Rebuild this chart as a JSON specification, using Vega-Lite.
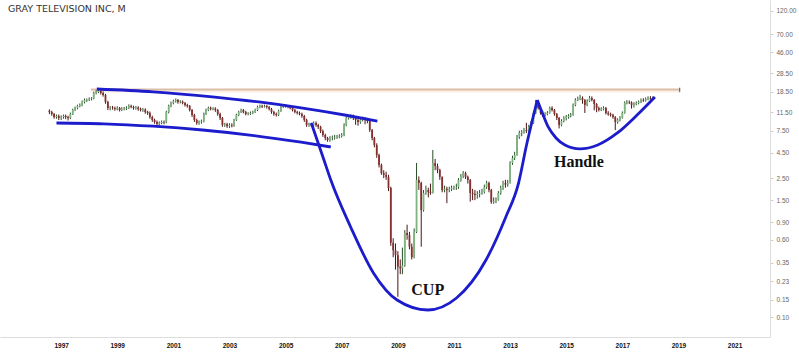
{
"$schema":"https://vega.github.io/schema/vega-lite/v6.json",
"width":770,"height":337,
"autosize":{"type":"none"},
"padding":{"left":0,"top":0,"right":29,"bottom":16},
"background":"#ffffff",
"title":{"text":"GRAY TELEVISION INC, M","anchor":"start","frame":"group","offset":-13,"dx":8,"font":"DejaVu Sans","fontSize":9.5,"fontWeight":"normal","color":"#333333"},
"config":{"view":{"stroke":null}},
"datasets":{
"candles":[
{"d":"1996-08-01","o":11.9,"h":12.3,"l":11.0,"c":11.56},
{"d":"1996-09-01","o":11.56,"h":11.9,"l":10.6,"c":11.04},
{"d":"1996-10-01","o":11.04,"h":11.3,"l":9.9,"c":10.3},
{"d":"1996-11-01","o":10.3,"h":10.9,"l":9.9,"c":10.54},
{"d":"1996-12-01","o":10.54,"h":10.9,"l":9.6,"c":10.06},
{"d":"1997-01-01","o":10.06,"h":10.7,"l":9.6,"c":10.3},
{"d":"1997-02-01","o":10.3,"h":10.9,"l":9.9,"c":10.54},
{"d":"1997-03-01","o":10.54,"h":10.9,"l":9.8,"c":10.3},
{"d":"1997-04-01","o":10.3,"h":10.6,"l":9.5,"c":10.06},
{"d":"1997-05-01","o":10.06,"h":11.4,"l":9.8,"c":11.04},
{"d":"1997-06-01","o":11.04,"h":12.5,"l":10.8,"c":12.11},
{"d":"1997-07-01","o":12.11,"h":13.1,"l":11.8,"c":12.69},
{"d":"1997-08-01","o":12.69,"h":13.7,"l":12.3,"c":13.29},
{"d":"1997-09-01","o":13.29,"h":14.1,"l":12.9,"c":13.6},
{"d":"1997-10-01","o":13.6,"h":15.1,"l":13.2,"c":14.58},
{"d":"1997-11-01","o":14.58,"h":15.8,"l":14.1,"c":15.27},
{"d":"1997-12-01","o":15.27,"h":15.8,"l":14.6,"c":15.4},
{"d":"1998-01-01","o":15.4,"h":16.2,"l":14.9,"c":15.62},
{"d":"1998-02-01","o":15.62,"h":16.3,"l":15.1,"c":15.8},
{"d":"1998-03-01","o":15.8,"h":18.5,"l":15.5,"c":17.95},
{"d":"1998-04-01","o":17.95,"h":19.2,"l":17.4,"c":18.37},
{"d":"1998-05-01","o":18.37,"h":19.7,"l":17.9,"c":18.8},
{"d":"1998-06-01","o":18.8,"h":19.4,"l":17.3,"c":17.95},
{"d":"1998-07-01","o":17.95,"h":18.6,"l":16.5,"c":17.14},
{"d":"1998-08-01","o":17.14,"h":17.6,"l":14.0,"c":14.58},
{"d":"1998-09-01","o":14.58,"h":15.0,"l":12.1,"c":12.69},
{"d":"1998-10-01","o":12.69,"h":13.3,"l":12.0,"c":12.8},
{"d":"1998-11-01","o":12.8,"h":13.3,"l":12.2,"c":12.69},
{"d":"1998-12-01","o":12.69,"h":13.1,"l":11.9,"c":12.39},
{"d":"1999-01-01","o":12.39,"h":13.2,"l":12.0,"c":12.69},
{"d":"1999-02-01","o":12.69,"h":13.0,"l":11.7,"c":12.11},
{"d":"1999-03-01","o":12.11,"h":12.9,"l":11.8,"c":12.39},
{"d":"1999-04-01","o":12.39,"h":13.0,"l":12.0,"c":12.5},
{"d":"1999-05-01","o":12.5,"h":13.2,"l":12.1,"c":12.69},
{"d":"1999-06-01","o":12.69,"h":13.8,"l":12.4,"c":13.29},
{"d":"1999-07-01","o":13.29,"h":13.7,"l":12.6,"c":12.98},
{"d":"1999-08-01","o":12.98,"h":13.4,"l":12.2,"c":12.69},
{"d":"1999-09-01","o":12.69,"h":13.3,"l":12.2,"c":12.8},
{"d":"1999-10-01","o":12.8,"h":13.2,"l":11.9,"c":12.39},
{"d":"1999-11-01","o":12.39,"h":12.8,"l":11.7,"c":12.11},
{"d":"1999-12-01","o":12.11,"h":12.7,"l":11.6,"c":12.2},
{"d":"2000-01-01","o":12.2,"h":12.6,"l":11.1,"c":11.56},
{"d":"2000-02-01","o":11.56,"h":11.9,"l":10.8,"c":11.3},
{"d":"2000-03-01","o":11.3,"h":11.7,"l":9.9,"c":10.3},
{"d":"2000-04-01","o":10.3,"h":10.6,"l":9.2,"c":9.6},
{"d":"2000-05-01","o":9.6,"h":9.9,"l":8.8,"c":9.17},
{"d":"2000-06-01","o":9.17,"h":9.5,"l":8.4,"c":8.75},
{"d":"2000-07-01","o":8.75,"h":9.3,"l":8.4,"c":8.96},
{"d":"2000-08-01","o":8.96,"h":9.5,"l":8.7,"c":9.17},
{"d":"2000-09-01","o":9.17,"h":9.5,"l":8.7,"c":9.1},
{"d":"2000-10-01","o":9.1,"h":11.9,"l":8.9,"c":11.56},
{"d":"2000-11-01","o":11.56,"h":13.7,"l":11.2,"c":13.29},
{"d":"2000-12-01","o":13.29,"h":14.7,"l":12.9,"c":14.24},
{"d":"2001-01-01","o":14.24,"h":15.4,"l":13.8,"c":14.92},
{"d":"2001-02-01","o":14.92,"h":15.8,"l":14.4,"c":15.27},
{"d":"2001-03-01","o":15.27,"h":15.6,"l":14.0,"c":14.58},
{"d":"2001-04-01","o":14.58,"h":15.2,"l":14.1,"c":14.7},
{"d":"2001-05-01","o":14.7,"h":15.1,"l":13.8,"c":14.24},
{"d":"2001-06-01","o":14.24,"h":14.6,"l":13.1,"c":13.6},
{"d":"2001-07-01","o":13.6,"h":14.0,"l":12.8,"c":13.29},
{"d":"2001-08-01","o":13.29,"h":13.6,"l":11.7,"c":12.11},
{"d":"2001-09-01","o":12.11,"h":12.4,"l":10.3,"c":10.78},
{"d":"2001-10-01","o":10.78,"h":11.1,"l":9.2,"c":9.6},
{"d":"2001-11-01","o":9.6,"h":9.9,"l":8.6,"c":8.96},
{"d":"2001-12-01","o":8.96,"h":9.5,"l":8.6,"c":9.17},
{"d":"2002-01-01","o":9.17,"h":9.7,"l":8.8,"c":9.3},
{"d":"2002-02-01","o":9.3,"h":11.4,"l":9.1,"c":11.04},
{"d":"2002-03-01","o":11.04,"h":12.5,"l":10.8,"c":12.11},
{"d":"2002-04-01","o":12.11,"h":13.1,"l":11.8,"c":12.69},
{"d":"2002-05-01","o":12.69,"h":13.1,"l":12.0,"c":12.39},
{"d":"2002-06-01","o":12.39,"h":12.9,"l":12.0,"c":12.5},
{"d":"2002-07-01","o":12.5,"h":12.9,"l":11.6,"c":12.11},
{"d":"2002-08-01","o":12.11,"h":12.4,"l":10.6,"c":11.04},
{"d":"2002-09-01","o":11.04,"h":11.4,"l":9.6,"c":10.06},
{"d":"2002-10-01","o":10.06,"h":10.3,"l":8.2,"c":8.55},
{"d":"2002-11-01","o":8.55,"h":9.0,"l":8.2,"c":8.7},
{"d":"2002-12-01","o":8.7,"h":9.0,"l":8.0,"c":8.36},
{"d":"2003-01-01","o":8.36,"h":8.9,"l":8.0,"c":8.55},
{"d":"2003-02-01","o":8.55,"h":8.9,"l":8.1,"c":8.45},
{"d":"2003-03-01","o":8.45,"h":9.9,"l":8.2,"c":9.6},
{"d":"2003-04-01","o":9.6,"h":11.1,"l":9.4,"c":10.78},
{"d":"2003-05-01","o":10.78,"h":11.9,"l":10.5,"c":11.56},
{"d":"2003-06-01","o":11.56,"h":12.5,"l":11.3,"c":12.11},
{"d":"2003-07-01","o":12.11,"h":12.4,"l":11.2,"c":11.56},
{"d":"2003-08-01","o":11.56,"h":11.9,"l":10.7,"c":11.04},
{"d":"2003-09-01","o":11.04,"h":11.5,"l":10.7,"c":11.1},
{"d":"2003-10-01","o":11.1,"h":11.7,"l":10.8,"c":11.3},
{"d":"2003-11-01","o":11.3,"h":11.9,"l":11.0,"c":11.56},
{"d":"2003-12-01","o":11.56,"h":12.5,"l":11.3,"c":12.11},
{"d":"2004-01-01","o":12.11,"h":13.4,"l":11.8,"c":12.98},
{"d":"2004-02-01","o":12.98,"h":13.7,"l":12.6,"c":13.29},
{"d":"2004-03-01","o":13.29,"h":13.7,"l":12.7,"c":13.1},
{"d":"2004-04-01","o":13.1,"h":13.7,"l":12.8,"c":13.29},
{"d":"2004-05-01","o":13.29,"h":13.6,"l":12.5,"c":12.98},
{"d":"2004-06-01","o":12.98,"h":13.3,"l":12.0,"c":12.39},
{"d":"2004-07-01","o":12.39,"h":12.7,"l":11.1,"c":11.56},
{"d":"2004-08-01","o":11.56,"h":11.9,"l":10.6,"c":11.04},
{"d":"2004-09-01","o":11.04,"h":11.4,"l":10.4,"c":10.78},
{"d":"2004-10-01","o":10.78,"h":12.2,"l":10.5,"c":11.83},
{"d":"2004-11-01","o":11.83,"h":13.4,"l":11.6,"c":12.98},
{"d":"2004-12-01","o":12.98,"h":13.7,"l":12.7,"c":13.29},
{"d":"2005-01-01","o":13.29,"h":13.8,"l":12.8,"c":13.2},
{"d":"2005-02-01","o":13.2,"h":13.6,"l":12.6,"c":12.98},
{"d":"2005-03-01","o":12.98,"h":13.4,"l":12.3,"c":12.69},
{"d":"2005-04-01","o":12.69,"h":13.0,"l":11.7,"c":12.11},
{"d":"2005-05-01","o":12.11,"h":12.4,"l":11.2,"c":11.56},
{"d":"2005-06-01","o":11.56,"h":11.9,"l":10.9,"c":11.3},
{"d":"2005-07-01","o":11.3,"h":11.7,"l":10.7,"c":11.04},
{"d":"2005-08-01","o":11.04,"h":11.4,"l":10.1,"c":10.54},
{"d":"2005-09-01","o":10.54,"h":10.8,"l":9.2,"c":9.6},
{"d":"2005-10-01","o":9.6,"h":9.9,"l":8.2,"c":8.55},
{"d":"2005-11-01","o":8.55,"h":9.0,"l":8.2,"c":8.7},
{"d":"2005-12-01","o":8.7,"h":9.0,"l":8.2,"c":8.55},
{"d":"2006-01-01","o":8.55,"h":9.3,"l":8.3,"c":8.96},
{"d":"2006-02-01","o":8.96,"h":9.3,"l":8.2,"c":8.55},
{"d":"2006-03-01","o":8.55,"h":8.8,"l":7.8,"c":8.17},
{"d":"2006-04-01","o":8.17,"h":8.4,"l":7.1,"c":7.44},
{"d":"2006-05-01","o":7.44,"h":7.7,"l":6.5,"c":6.78},
{"d":"2006-06-01","o":6.78,"h":7.0,"l":6.0,"c":6.33},
{"d":"2006-07-01","o":6.33,"h":6.5,"l":5.8,"c":6.04},
{"d":"2006-08-01","o":6.04,"h":6.6,"l":5.8,"c":6.33},
{"d":"2006-09-01","o":6.33,"h":6.7,"l":6.0,"c":6.4},
{"d":"2006-10-01","o":6.4,"h":6.8,"l":6.1,"c":6.48},
{"d":"2006-11-01","o":6.48,"h":6.8,"l":6.2,"c":6.55},
{"d":"2006-12-01","o":6.55,"h":6.9,"l":6.3,"c":6.63},
{"d":"2007-01-01","o":6.63,"h":7.1,"l":6.4,"c":6.78},
{"d":"2007-02-01","o":6.78,"h":8.9,"l":6.6,"c":8.55},
{"d":"2007-03-01","o":8.55,"h":10.4,"l":8.3,"c":10.06},
{"d":"2007-04-01","o":10.06,"h":10.7,"l":9.7,"c":10.3},
{"d":"2007-05-01","o":10.3,"h":10.9,"l":9.9,"c":10.54},
{"d":"2007-06-01","o":10.54,"h":10.9,"l":9.6,"c":10.06},
{"d":"2007-07-01","o":10.06,"h":10.4,"l":8.6,"c":9.6},
{"d":"2007-08-01","o":9.6,"h":10.0,"l":8.4,"c":9.17},
{"d":"2007-09-01","o":9.17,"h":9.9,"l":8.8,"c":9.6},
{"d":"2007-10-01","o":9.6,"h":10.4,"l":9.3,"c":10.06},
{"d":"2007-11-01","o":10.06,"h":10.3,"l":8.7,"c":9.83},
{"d":"2007-12-01","o":9.83,"h":10.1,"l":8.9,"c":9.38},
{"d":"2008-01-01","o":9.38,"h":9.6,"l":7.3,"c":7.62},
{"d":"2008-02-01","o":7.62,"h":7.8,"l":6.0,"c":6.33},
{"d":"2008-03-01","o":6.33,"h":6.5,"l":5.1,"c":5.38},
{"d":"2008-04-01","o":5.38,"h":5.6,"l":4.0,"c":4.27},
{"d":"2008-05-01","o":4.27,"h":4.4,"l":3.2,"c":3.39},
{"d":"2008-06-01","o":3.39,"h":3.5,"l":2.7,"c":2.81},
{"d":"2008-07-01","o":2.81,"h":3.0,"l":2.5,"c":2.69},
{"d":"2008-08-01","o":2.69,"h":2.9,"l":2.4,"c":2.57},
{"d":"2008-09-01","o":2.57,"h":2.7,"l":1.85,"c":1.99},
{"d":"2008-10-01","o":1.99,"h":2.05,"l":0.52,"c":0.56},
{"d":"2008-11-01","o":0.56,"h":0.62,"l":0.4,"c":0.47},
{"d":"2008-12-01","o":0.47,"h":0.55,"l":0.3,"c":0.42},
{"d":"2009-01-01","o":0.42,"h":0.46,"l":0.16,"c":0.32},
{"d":"2009-02-01","o":0.32,"h":0.38,"l":0.27,"c":0.31},
{"d":"2009-03-01","o":0.31,"h":0.5,"l":0.27,"c":0.33},
{"d":"2009-04-01","o":0.33,"h":0.75,"l":0.32,"c":0.7},
{"d":"2009-05-01","o":0.7,"h":0.85,"l":0.6,"c":0.67},
{"d":"2009-06-01","o":0.67,"h":0.72,"l":0.48,"c":0.51},
{"d":"2009-07-01","o":0.51,"h":0.55,"l":0.38,"c":0.4},
{"d":"2009-08-01","o":0.4,"h":0.78,"l":0.39,"c":0.72},
{"d":"2009-09-01","o":0.72,"h":3.55,"l":0.7,"c":2.39},
{"d":"2009-10-01","o":2.39,"h":2.6,"l":1.9,"c":2.23},
{"d":"2009-11-01","o":2.23,"h":2.3,"l":0.51,"c":1.19},
{"d":"2009-12-01","o":1.19,"h":1.9,"l":1.15,"c":1.77},
{"d":"2010-01-01","o":1.77,"h":2.1,"l":1.7,"c":1.9},
{"d":"2010-02-01","o":1.9,"h":2.0,"l":1.6,"c":1.81},
{"d":"2010-03-01","o":1.81,"h":2.2,"l":1.7,"c":1.77},
{"d":"2010-04-01","o":1.77,"h":4.8,"l":1.75,"c":3.55},
{"d":"2010-05-01","o":3.55,"h":3.9,"l":3.0,"c":3.31},
{"d":"2010-06-01","o":3.31,"h":3.5,"l":2.8,"c":3.02},
{"d":"2010-07-01","o":3.02,"h":3.1,"l":2.4,"c":2.57},
{"d":"2010-08-01","o":2.57,"h":2.6,"l":1.8,"c":1.9},
{"d":"2010-09-01","o":1.9,"h":2.1,"l":1.8,"c":1.95},
{"d":"2010-10-01","o":1.95,"h":2.05,"l":1.4,"c":1.9},
{"d":"2010-11-01","o":1.9,"h":2.05,"l":1.8,"c":1.94},
{"d":"2010-12-01","o":1.94,"h":2.1,"l":1.85,"c":1.99},
{"d":"2011-01-01","o":1.99,"h":2.1,"l":1.9,"c":2.01},
{"d":"2011-02-01","o":2.01,"h":2.2,"l":1.9,"c":2.03},
{"d":"2011-03-01","o":2.03,"h":2.5,"l":1.95,"c":2.39},
{"d":"2011-04-01","o":2.39,"h":2.75,"l":2.3,"c":2.62},
{"d":"2011-05-01","o":2.62,"h":2.95,"l":2.5,"c":2.81},
{"d":"2011-06-01","o":2.81,"h":2.9,"l":2.45,"c":2.57},
{"d":"2011-07-01","o":2.57,"h":2.65,"l":2.2,"c":2.39},
{"d":"2011-08-01","o":2.39,"h":2.45,"l":1.45,"c":1.77},
{"d":"2011-09-01","o":1.77,"h":1.95,"l":1.5,"c":1.73},
{"d":"2011-10-01","o":1.73,"h":1.9,"l":1.5,"c":1.69},
{"d":"2011-11-01","o":1.69,"h":1.85,"l":1.55,"c":1.73},
{"d":"2011-12-01","o":1.73,"h":1.9,"l":1.6,"c":1.77},
{"d":"2012-01-01","o":1.77,"h":1.95,"l":1.7,"c":1.81},
{"d":"2012-02-01","o":1.81,"h":2.15,"l":1.75,"c":2.03},
{"d":"2012-03-01","o":2.03,"h":2.35,"l":1.95,"c":2.23},
{"d":"2012-04-01","o":2.23,"h":2.3,"l":1.8,"c":1.9},
{"d":"2012-05-01","o":1.9,"h":1.95,"l":1.38,"c":1.44},
{"d":"2012-06-01","o":1.44,"h":1.6,"l":1.38,"c":1.47},
{"d":"2012-07-01","o":1.47,"h":1.6,"l":1.4,"c":1.51},
{"d":"2012-08-01","o":1.51,"h":1.85,"l":1.48,"c":1.77},
{"d":"2012-09-01","o":1.77,"h":2.1,"l":1.7,"c":1.99},
{"d":"2012-10-01","o":1.99,"h":2.35,"l":1.9,"c":2.23},
{"d":"2012-11-01","o":2.23,"h":2.4,"l":2.0,"c":2.15},
{"d":"2012-12-01","o":2.15,"h":2.4,"l":2.05,"c":2.23},
{"d":"2013-01-01","o":2.23,"h":3.7,"l":2.2,"c":3.55},
{"d":"2013-02-01","o":3.55,"h":4.2,"l":3.4,"c":3.98},
{"d":"2013-03-01","o":3.98,"h":4.6,"l":3.8,"c":4.27},
{"d":"2013-04-01","o":4.27,"h":6.8,"l":4.2,"c":6.48},
{"d":"2013-05-01","o":6.48,"h":7.5,"l":6.2,"c":7.11},
{"d":"2013-06-01","o":7.11,"h":7.6,"l":6.6,"c":7.27},
{"d":"2013-07-01","o":7.27,"h":8.0,"l":7.0,"c":7.62},
{"d":"2013-08-01","o":7.62,"h":9.0,"l":7.1,"c":7.45},
{"d":"2013-09-01","o":7.45,"h":8.6,"l":7.2,"c":8.17},
{"d":"2013-10-01","o":8.17,"h":9.4,"l":7.9,"c":8.96},
{"d":"2013-11-01","o":8.96,"h":11.8,"l":8.8,"c":11.3},
{"d":"2013-12-01","o":11.3,"h":15.3,"l":11.0,"c":14.24},
{"d":"2014-01-01","o":14.24,"h":14.8,"l":12.2,"c":12.69},
{"d":"2014-02-01","o":12.69,"h":13.0,"l":10.9,"c":11.3},
{"d":"2014-03-01","o":11.3,"h":11.9,"l":10.3,"c":10.78},
{"d":"2014-04-01","o":10.78,"h":11.5,"l":10.4,"c":11.04},
{"d":"2014-05-01","o":11.04,"h":11.8,"l":10.7,"c":11.3},
{"d":"2014-06-01","o":11.3,"h":13.1,"l":11.1,"c":12.69},
{"d":"2014-07-01","o":12.69,"h":13.2,"l":11.7,"c":12.11},
{"d":"2014-08-01","o":12.11,"h":12.4,"l":10.6,"c":11.04},
{"d":"2014-09-01","o":11.04,"h":11.3,"l":9.6,"c":10.06},
{"d":"2014-10-01","o":10.06,"h":10.3,"l":7.9,"c":8.55},
{"d":"2014-11-01","o":8.55,"h":9.8,"l":8.3,"c":9.38},
{"d":"2014-12-01","o":9.38,"h":10.5,"l":9.1,"c":10.06},
{"d":"2015-01-01","o":10.06,"h":10.8,"l":9.5,"c":10.3},
{"d":"2015-02-01","o":10.3,"h":11.0,"l":9.9,"c":10.54},
{"d":"2015-03-01","o":10.54,"h":11.3,"l":10.2,"c":10.78},
{"d":"2015-04-01","o":10.78,"h":14.1,"l":10.6,"c":13.6},
{"d":"2015-05-01","o":13.6,"h":15.9,"l":13.2,"c":15.27},
{"d":"2015-06-01","o":15.27,"h":16.5,"l":14.9,"c":15.62},
{"d":"2015-07-01","o":15.62,"h":17.2,"l":15.2,"c":15.99},
{"d":"2015-08-01","o":15.99,"h":16.6,"l":14.0,"c":15.27},
{"d":"2015-09-01","o":15.27,"h":15.6,"l":11.3,"c":13.6},
{"d":"2015-10-01","o":13.6,"h":15.5,"l":13.2,"c":14.92},
{"d":"2015-11-01","o":14.92,"h":16.8,"l":14.6,"c":15.99},
{"d":"2015-12-01","o":15.99,"h":16.6,"l":14.8,"c":15.27},
{"d":"2016-01-01","o":15.27,"h":15.6,"l":12.0,"c":13.92},
{"d":"2016-02-01","o":13.92,"h":14.2,"l":11.5,"c":12.69},
{"d":"2016-03-01","o":12.69,"h":13.1,"l":11.7,"c":12.11},
{"d":"2016-04-01","o":12.11,"h":12.9,"l":11.8,"c":12.39},
{"d":"2016-05-01","o":12.39,"h":13.2,"l":12.0,"c":12.69},
{"d":"2016-06-01","o":12.69,"h":13.0,"l":10.9,"c":11.3},
{"d":"2016-07-01","o":11.3,"h":11.8,"l":10.6,"c":11.04},
{"d":"2016-08-01","o":11.04,"h":11.4,"l":10.4,"c":10.78},
{"d":"2016-09-01","o":10.78,"h":11.1,"l":9.9,"c":10.3},
{"d":"2016-10-01","o":10.3,"h":10.5,"l":7.6,"c":9.17},
{"d":"2016-11-01","o":9.17,"h":10.0,"l":8.8,"c":9.6},
{"d":"2016-12-01","o":9.6,"h":10.5,"l":9.3,"c":10.06},
{"d":"2017-01-01","o":10.06,"h":11.7,"l":9.9,"c":11.3},
{"d":"2017-02-01","o":11.3,"h":14.8,"l":11.1,"c":14.24},
{"d":"2017-03-01","o":14.24,"h":15.2,"l":13.8,"c":14.58},
{"d":"2017-04-01","o":14.58,"h":15.1,"l":13.9,"c":14.4},
{"d":"2017-05-01","o":14.4,"h":14.8,"l":12.5,"c":13.6},
{"d":"2017-06-01","o":13.6,"h":14.5,"l":12.8,"c":13.92},
{"d":"2017-07-01","o":13.92,"h":14.8,"l":13.5,"c":14.24},
{"d":"2017-08-01","o":14.24,"h":15.1,"l":13.8,"c":14.58},
{"d":"2017-09-01","o":14.58,"h":15.8,"l":14.2,"c":15.27},
{"d":"2017-10-01","o":15.27,"h":15.9,"l":14.6,"c":15.1},
{"d":"2017-11-01","o":15.1,"h":16.2,"l":14.7,"c":15.62},
{"d":"2017-12-01","o":15.62,"h":16.6,"l":15.2,"c":15.99},
{"d":"2018-01-01","o":15.99,"h":16.7,"l":15.3,"c":15.8},
{"d":"2018-02-01","o":15.8,"h":16.6,"l":15.0,"c":15.99}
],
"curves":[
{"g":"upper","d":"1998-04-10","p":19.7},
{"g":"upper","d":"2000-04-12","p":18.46},
{"g":"upper","d":"2002-05-22","p":16.44},
{"g":"upper","d":"2004-01-18","p":14.58},
{"g":"upper","d":"2005-07-22","p":12.72},
{"g":"upper","d":"2007-03-18","p":10.66},
{"g":"upper","d":"2008-04-09","p":9.38},
{"g":"lower","d":"1996-11-01","p":8.96},
{"g":"lower","d":"1998-07-08","p":8.8},
{"g":"lower","d":"2000-04-12","p":8.32},
{"g":"lower","d":"2002-01-15","p":7.62},
{"g":"lower","d":"2003-10-19","p":6.74},
{"g":"lower","d":"2005-07-22","p":5.74},
{"g":"lower","d":"2006-08-12","p":5.14},
{"g":"cup","d":"2005-12-01","p":8.96},
{"g":"cup","d":"2006-05-15","p":3.8},
{"g":"cup","d":"2006-08-12","p":2.39},
{"g":"cup","d":"2007-04-27","p":0.806},
{"g":"cup","d":"2008-02-18","p":0.278},
{"g":"cup","d":"2008-12-22","p":0.1485},
{"g":"cup","d":"2010-01-25","p":0.1178},
{"g":"cup","d":"2011-02-03","p":0.1555},
{"g":"cup","d":"2012-02-22","p":0.375},
{"g":"cup","d":"2012-11-06","p":1.016},
{"g":"cup","d":"2013-04-21","p":2.23},
{"g":"cup","d":"2013-08-03","p":5.38},
{"g":"cup","d":"2013-10-18","p":9.6},
{"g":"cup","d":"2013-12-21","p":15.27},
{"g":"handle","d":"2013-12-21","p":15.27},
{"g":"handle","d":"2014-03-07","p":10.78},
{"g":"handle","d":"2014-05-12","p":8.17},
{"g":"handle","d":"2014-08-22","p":6.33},
{"g":"handle","d":"2014-12-16","p":5.38},
{"g":"handle","d":"2015-06-27","p":4.91},
{"g":"handle","d":"2016-02-15","p":5.38},
{"g":"handle","d":"2016-10-28","p":7.11},
{"g":"handle","d":"2017-07-12","p":10.78},
{"g":"handle","d":"2018-03-01","p":16.36}
],
"labels":[
{"t":"CUP","d":"2010-01-25","p":0.187},
{"t":"Handle","d":"2015-06-15","p":3.63}
],
"ref":[
{"d":"1998-01-24","d2":"2019-01-18","p":19.5,"pb":18.2,"tl":18.3,"th":20.3}
]
},
"layer":[
{"data":{"name":"ref"},
 "mark":{"type":"rect","color":"#fbeee4"},
 "encoding":{
  "x":{"field":"d","type":"temporal","title":null,"scale":{"domain":["1995-01-01","2022-02-01"]},
       "axis":{"values":[{"year":1997},{"year":1999},{"year":2001},{"year":2003},{"year":2005},{"year":2007},{"year":2009},{"year":2011},{"year":2013},{"year":2015},{"year":2017},{"year":2019},{"year":2021}],
               "format":"%Y","labelFont":"Liberation Sans","labelFontSize":6.5,"labelFontWeight":"bold","labelColor":"#111111","ticks":false,"grid":false,"domainColor":"#dddddd","labelPadding":5,"labelFlush":false,"labelOverlap":false}},
  "x2":{"field":"d2"},
  "y":{"field":"p","type":"quantitative","title":null,"scale":{"type":"log","domain":[0.063,154.8],"nice":false,"zero":false},
       "axis":{"orient":"right","values":[0.1,0.15,0.23,0.35,0.6,0.9,1.5,2.5,4.5,7.5,11.5,18.5,28.5,46,70,120],"format":".2f","labelFont":"Liberation Sans","labelFontSize":6.5,"labelColor":"#666666","tickSize":3,"tickColor":"#cccccc","domainColor":"#dddddd","labelPadding":3,"grid":false,"labelOverlap":false,"labelFlush":false}},
  "y2":{"field":"pb"}
 }},
{"data":{"name":"ref"},
 "mark":{"type":"rule","color":"#dcbfa8","strokeWidth":2},
 "encoding":{"x":{"field":"d","type":"temporal","title":null},"x2":{"field":"d2"},"y":{"field":"p","type":"quantitative","title":null}}},
{"data":{"name":"ref"},
 "mark":{"type":"rule","color":"#555555","strokeWidth":1},
 "encoding":{"x":{"field":"d2","type":"temporal","title":null},"y":{"field":"tl","type":"quantitative","title":null},"y2":{"field":"th"}}},
{"data":{"name":"candles"},
 "mark":{"type":"rule","strokeWidth":1},
 "encoding":{
  "x":{"field":"d","type":"temporal","title":null},
  "y":{"field":"l","type":"quantitative","title":null},
  "y2":{"field":"h"},
  "color":{"condition":{"test":"datum.c >= datum.o","value":"#2a4f2a"},"value":"#4a1616"}
 }},
{"data":{"name":"candles"},
 "mark":{"type":"bar","size":1.8},
 "encoding":{
  "x":{"field":"d","type":"temporal","title":null},
  "y":{"field":"o","type":"quantitative","title":null},
  "y2":{"field":"c"},
  "color":{"condition":{"test":"datum.c >= datum.o","value":"#7fb37f"},"value":"#86302e"}
 }},
{"data":{"name":"curves"},
 "mark":{"type":"line","color":"#1c1ccc","strokeWidth":2.8,"interpolate":"monotone"},
 "encoding":{
  "x":{"field":"d","type":"temporal","title":null},
  "y":{"field":"p","type":"quantitative","title":null},
  "detail":{"field":"g"}
 }},
{"data":{"name":"labels"},
 "mark":{"type":"text","font":"Liberation Serif","fontSize":16,"fontWeight":"bold","color":"#111111","align":"center","baseline":"middle"},
 "encoding":{
  "x":{"field":"d","type":"temporal","title":null},
  "y":{"field":"p","type":"quantitative","title":null},
  "text":{"field":"t"}
 }}
]
}
